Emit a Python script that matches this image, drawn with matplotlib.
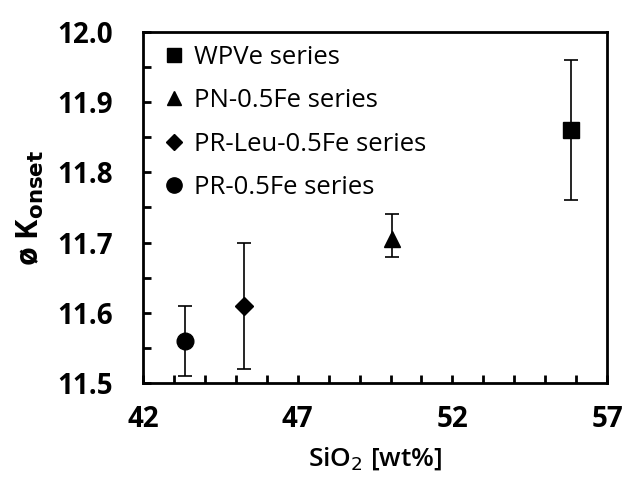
import matplotlib
matplotlib.use("Agg")
import matplotlib.pyplot as plt
from matplotlib.ticker import MultipleLocator
from matplotlib.lines import Line2D

series = ["WPVe series", "PN-0.5Fe series", "PR-Leu-0.5Fe series", "PR-0.5Fe series"]
markers = ["s", "^", "D", "o"]
sizes = [11, 11, 9, 12]
sio2 = [55.85, 50.05, 45.25, 43.35]
konset = [11.86, 11.705, 11.61, 11.56]
err_lo = [0.10, 0.025, 0.09, 0.05]
err_hi = [0.10, 0.035, 0.09, 0.05]
xticks = [42, 47, 52, 57]

plt.rcParams["font.family"] = ["Open Sans", "DejaVu Sans"]

fig = plt.figure(figsize=(6.22, 4.78), dpi=100)
ax = fig.add_axes([0.23, 0.199, 0.746, 0.734])

handles = []
for i in range(len(series)):
    ax.errorbar(sio2[i], konset[i], yerr=[[err_lo[i]], [err_hi[i]]],
                fmt=markers[i], color="black", ms=sizes[i], ecolor="black",
                elinewidth=1.2, capsize=5, capthick=1.2)
    handles.append(Line2D([], [], ls="none", marker=markers[i], color="black",
                          ms=sizes[i] - 1, label=series[i]))

ax.set_xlim(42, 57)
ax.set_ylim(11.5, 12.0)
ax.set_xticks(xticks)
ax.xaxis.set_minor_locator(MultipleLocator(1))
ax.yaxis.set_major_locator(MultipleLocator(0.1))
ax.yaxis.set_minor_locator(MultipleLocator(0.05))
ax.yaxis.set_major_formatter(plt.FormatStrFormatter("%.1f"))
ax.tick_params(which="both", direction="in", width=2, length=6, labelsize=20)
ax.tick_params(axis="x", which="major", pad=16)
ax.tick_params(axis="y", which="major", pad=22)
for lab in ax.get_xticklabels() + ax.get_yticklabels():
    lab.set_fontweight("bold")
for s in ax.spines.values():
    s.set_linewidth(2)

ax.set_xlabel("SiO$_2$ [wt%]", fontsize=19, fontweight="semibold", labelpad=8)
ax.set_ylabel(r"ø K$_{\mathbf{onset}}$", fontsize=22, fontweight="bold", labelpad=8)

ax.legend(handles=handles, loc="upper left", frameon=False, fontsize=18.5,
          handletextpad=0.1, handlelength=1.4, labelspacing=0.72,
          borderaxespad=0.1)

fig.savefig("out.png", dpi=100)
